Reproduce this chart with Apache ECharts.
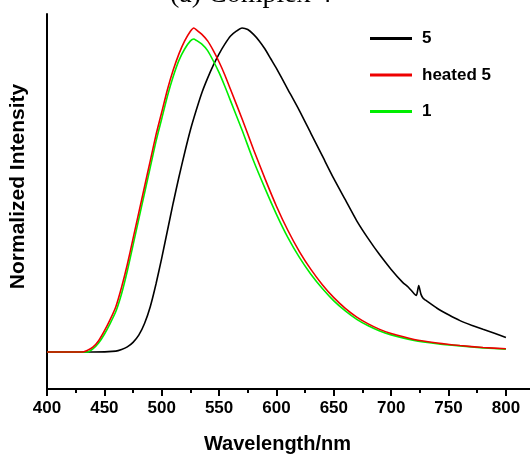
<!DOCTYPE html>
<html>
<head>
<meta charset="utf-8">
<script src="https://cdn.jsdelivr.net/npm/echarts@6/dist/echarts.min.js"></script>
<style>html,body{margin:0;padding:0;background:#fff}#c{width:530px;height:455px}</style>
</head>
<body>
<div id="c"></div>
<script>
// Data (normalized intensity, baseline = 0)
var wl5 = [400,420,440,460,465,470,475,480,485,490,495,500,505,510,515,520,525,530,535,540,545,550,555,560,565,570,575,580,585,590,595,600,610,620,630,640,650,660,670,680,690,700,710,715,720,722,724,726,728,730,740,750,760,770,780,790,800];
var int5 = [0,0,0,0.003,0.008,0.016,0.03,0.052,0.088,0.14,0.21,0.29,0.375,0.46,0.54,0.615,0.685,0.745,0.80,0.845,0.885,0.92,0.95,0.975,0.99,1.0,0.995,0.98,0.96,0.935,0.905,0.875,0.81,0.745,0.675,0.605,0.535,0.47,0.405,0.35,0.3,0.255,0.215,0.2,0.18,0.175,0.205,0.178,0.165,0.16,0.135,0.115,0.097,0.083,0.07,0.058,0.045];

var wlH = [400,420,430,435,440,445,450,455,460,465,470,475,480,485,490,495,500,505,510,515,520,525,528,530,535,540,545,550,555,560,570,580,590,600,610,620,630,640,650,660,670,680,690,700,720,740,760,780,800];
var intH = [0,0,0,0.005,0.015,0.035,0.065,0.1,0.14,0.2,0.27,0.35,0.43,0.51,0.59,0.67,0.74,0.81,0.87,0.92,0.96,0.99,1.0,0.995,0.98,0.96,0.93,0.895,0.855,0.81,0.72,0.625,0.535,0.45,0.375,0.31,0.255,0.208,0.168,0.135,0.108,0.087,0.07,0.057,0.039,0.028,0.02,0.014,0.01];

var wl1 = [400,420,435,440,445,450,455,460,465,470,475,480,485,490,495,500,505,510,515,520,525,528,530,535,540,545,550,555,560,570,580,590,600,610,620,630,640,650,660,670,680,690,700,720,740,760,780,800];
var int1 = [0,0,0,0.01,0.028,0.055,0.088,0.125,0.18,0.25,0.33,0.41,0.49,0.57,0.65,0.72,0.79,0.85,0.9,0.935,0.96,0.966,0.962,0.95,0.93,0.898,0.862,0.82,0.775,0.685,0.59,0.505,0.425,0.353,0.292,0.24,0.196,0.158,0.127,0.101,0.081,0.065,0.053,0.036,0.026,0.019,0.013,0.009];

var majorTicks = [400,450,500,550,600,650,700,750,800];
var minorTicks = [425,475,525,575,625,675,725,775];
var seriesNames = ['5','heated 5','1'];
var titleText = '(a) Complex 4';

function pairs(x, y){ return x.map(function(v,i){ return [v, y[i]]; }); }

var F = 'Liberation Sans, Arial, sans-serif';
var chart = echarts.init(document.getElementById('c'));
chart.setOption({
  animation: false,
  backgroundColor: '#fff',
  grid: {left: 47, right: 0, top: 14, bottom: 66, containLabel: false, outerBoundsMode: 'none'},
  graphic: [{
    type: 'text', left: 170, top: -19,
    style: {text: titleText, font: '28px "Liberation Serif", "Times New Roman", serif', fill: '#000'}
  }],
  legend: {
    orient: 'vertical', left: 365, top: 25, itemWidth: 42, itemHeight: 3, itemGap: 19.5,
    icon: 'rect',
    textStyle: {fontFamily: F, fontWeight: 'bold', fontSize: 17, color: '#000', padding: [0,0,0,5]},
    data: seriesNames
  },
  xAxis: [{
    type: 'value', min: 400, max: 821,
    name: 'Wavelength/nm', nameLocation: 'middle', nameGap: 45,
    nameTextStyle: {fontFamily: F, fontWeight: 'bold', fontSize: 20, color: '#000', padding: [0,22,0,0]},
    axisLine: {onZero: false, lineStyle: {color: '#000', width: 2}},
    axisTick: {show: true, length: 7, lineStyle: {color: '#000', width: 2}, customValues: majorTicks},
    axisLabel: {fontFamily: F, fontWeight: 'bold', fontSize: 17, color: '#000', margin: 11, customValues: majorTicks},
    splitLine: {show: false}
  }, {
    type: 'value', min: 400, max: 821, position: 'bottom',
    axisLine: {show: false, onZero: false},
    axisTick: {show: true, length: 4, lineStyle: {color: '#000', width: 2}, customValues: minorTicks},
    axisLabel: {show: false},
    splitLine: {show: false}
  }],
  yAxis: {
    type: 'value', min: -0.114, max: 1.043,
    name: 'Normalized Intensity', nameLocation: 'middle', nameGap: 18,
    nameTextStyle: {fontFamily: F, fontWeight: 'bold', fontSize: 21, color: '#000', padding: [0,0,0,30]},
    axisLine: {show: true, onZero: false, lineStyle: {color: '#000', width: 2}},
    axisTick: {show: false}, axisLabel: {show: false}, splitLine: {show: false}
  },
  series: [
    {name: seriesNames[0], type: 'line', data: pairs(wl5, int5), showSymbol: false, smooth: 0.2, lineStyle: {color: '#000', width: 1.6}, itemStyle: {color: '#000'}},
    {name: seriesNames[2], type: 'line', data: pairs(wl1, int1), showSymbol: false, smooth: 0.2, lineStyle: {color: '#00ee00', width: 1.6}, itemStyle: {color: '#00ee00'}},
    {name: seriesNames[1], type: 'line', data: pairs(wlH, intH), showSymbol: false, smooth: 0.2, lineStyle: {color: '#ee0000', width: 1.6}, itemStyle: {color: '#ee0000'}}
  ]
});
</script>
</body>
</html>
